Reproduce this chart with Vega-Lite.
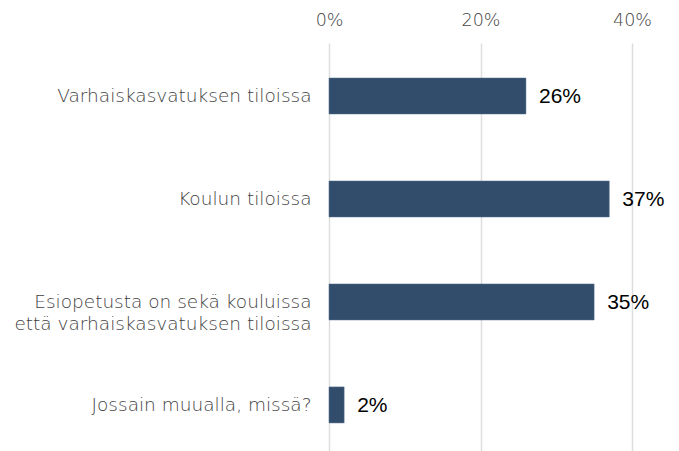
{
  "$schema": "https://vega.github.io/schema/vega-lite/v6.json",
  "autosize": "none",
  "width": 303,
  "height": 408,
  "padding": {"left": 329, "top": 43, "right": 47, "bottom": 0},
  "background": "white",
  "config": {"view": {"stroke": null}, "font": "DejaVu Sans"},
  "data": {"values": [
    {"paikka": "Varhaiskasvatuksen tiloissa", "osuus": 0.26, "order": 1},
    {"paikka": "Koulun tiloissa", "osuus": 0.37, "order": 2},
    {"paikka": "Esiopetusta on sekä kouluissa |että varhaiskasvatuksen tiloissa", "osuus": 0.35, "order": 3},
    {"paikka": "Jossain muualla, missä?", "osuus": 0.02, "order": 4}
  ]},
  "encoding": {
    "y": {
      "field": "paikka", "type": "nominal", "sort": {"field": "order"},
      "scale": {"paddingInner": 0.65, "paddingOuter": 0.306, "align": 0.555},
      "axis": {
        "title": null, "domain": false, "ticks": false, "grid": false,
        "labelExpr": "split(datum.label, '|')",
        "labelFont": "DejaVu Sans", "labelFontSize": 18.5, "labelFontWeight": 200, "labelColor": "#3f3f3f",
        "labelPadding": 18, "labelLineHeight": 22, "labelLimit": 400
      }
    },
    "x": {
      "field": "osuus", "type": "quantitative",
      "scale": {"domain": [0, 0.4], "nice": false},
      "axis": {
        "orient": "top", "title": null, "format": ".0%", "values": [0, 0.2, 0.4],
        "domain": false, "ticks": false, "grid": true, "gridColor": "#dddddd", "gridWidth": 1.5,
        "labelFont": "DejaVu Sans", "labelFontSize": 17.5, "labelFontWeight": 200, "labelColor": "#444444", "labelPadding": 14,
        "labelFlush": false
      }
    }
  },
  "layer": [
    {"mark": {"type": "bar", "color": "#314d6b", "stroke": "#5a7390", "strokeWidth": 0.5}},
    {"mark": {"type": "text", "align": "left", "baseline": "middle", "dx": 13, "dy": 1, "fontSize": 21, "color": "#000000", "font": "Liberation Sans"},
     "encoding": {"text": {"field": "osuus", "type": "quantitative", "format": ".0%"}}}
  ]
}
